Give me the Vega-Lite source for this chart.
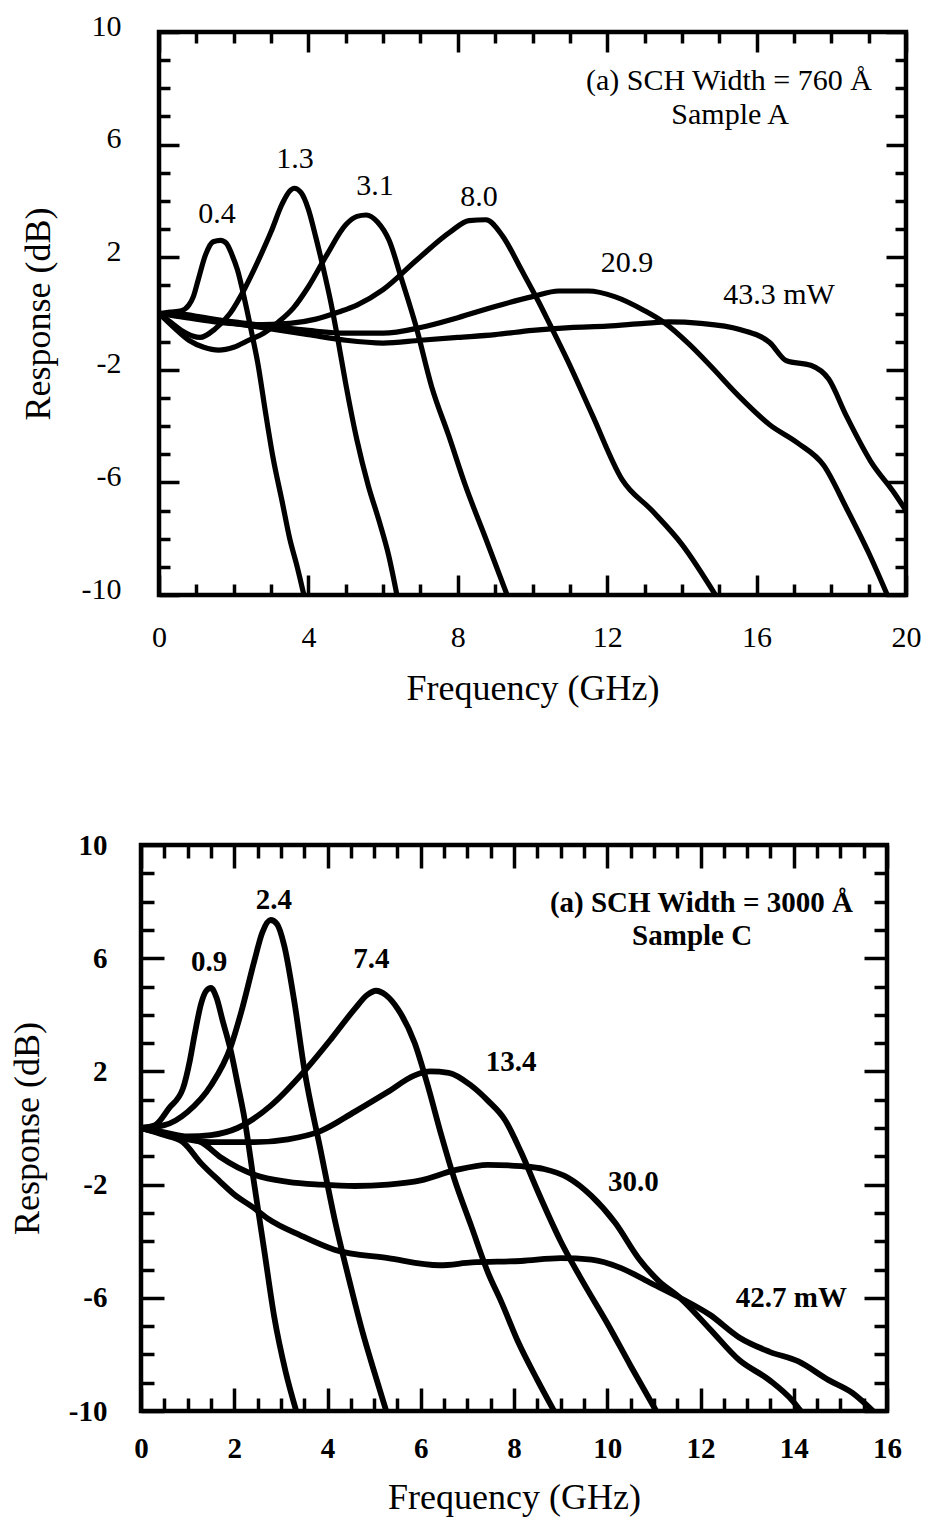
{
  "$schema": "https://vega.github.io/schema/vega-lite/v6.json",
  "background": "white",
  "padding": {"left": 0, "top": 8, "right": 3, "bottom": 5},
  "config": {
    "font": "Liberation Serif",
    "view": {"stroke": "black", "strokeWidth": 4.5},
    "axis": {"domain": false, "grid": false, "tickColor": "black", "tickWidth": 3.5, "labelColor": "black", "titleColor": "black", "labelFont": "Liberation Serif", "titleFont": "Liberation Serif", "labelOverlap": false, "labelFlush": false, "titleFontWeight": "normal", "labelFontWeight": "normal"},
    "text": {"font": "Liberation Serif", "color": "black"}
  },
  "datasets": {
    "A": [
      {"p":"0.4","f":0,"r":0},{"p":"0.4","f":0.3,"r":0.05},{"p":"0.4","f":0.6,"r":0.1},{"p":"0.4","f":0.8,"r":0.3},{"p":"0.4","f":0.92,"r":0.6},{"p":"0.4","f":1.05,"r":1.2},{"p":"0.4","f":1.25,"r":2.1},{"p":"0.4","f":1.45,"r":2.55},{"p":"0.4","f":1.65,"r":2.6},{"p":"0.4","f":1.8,"r":2.5},{"p":"0.4","f":1.95,"r":2.1},{"p":"0.4","f":2.1,"r":1.55},{"p":"0.4","f":2.3,"r":0.45},{"p":"0.4","f":2.5,"r":-0.8},{"p":"0.4","f":2.65,"r":-1.8},{"p":"0.4","f":2.85,"r":-3.5},{"p":"0.4","f":3.05,"r":-5.1},{"p":"0.4","f":3.3,"r":-6.7},{"p":"0.4","f":3.5,"r":-8.0},{"p":"0.4","f":3.7,"r":-9.0},{"p":"0.4","f":3.88,"r":-10},
      {"p":"1.3","f":0,"r":0},{"p":"1.3","f":0.3,"r":-0.3},{"p":"1.3","f":0.6,"r":-0.6},{"p":"1.3","f":0.9,"r":-0.8},{"p":"1.3","f":1.1,"r":-0.85},{"p":"1.3","f":1.5,"r":-0.55},{"p":"1.3","f":1.9,"r":0.0},{"p":"1.3","f":2.3,"r":0.9},{"p":"1.3","f":2.7,"r":2.0},{"p":"1.3","f":3.0,"r":2.9},{"p":"1.3","f":3.3,"r":3.9},{"p":"1.3","f":3.5,"r":4.35},{"p":"1.3","f":3.62,"r":4.45},{"p":"1.3","f":3.8,"r":4.3},{"p":"1.3","f":4.0,"r":3.7},{"p":"1.3","f":4.2,"r":2.7},{"p":"1.3","f":4.4,"r":1.6},{"p":"1.3","f":4.6,"r":0.4},{"p":"1.3","f":4.8,"r":-1.0},{"p":"1.3","f":5.0,"r":-2.5},{"p":"1.3","f":5.3,"r":-4.5},{"p":"1.3","f":5.6,"r":-6.1},{"p":"1.3","f":5.9,"r":-7.4},{"p":"1.3","f":6.15,"r":-8.6},{"p":"1.3","f":6.37,"r":-10},
      {"p":"3.1","f":0,"r":0},{"p":"3.1","f":0.4,"r":-0.5},{"p":"3.1","f":0.8,"r":-0.95},{"p":"3.1","f":1.2,"r":-1.2},{"p":"3.1","f":1.6,"r":-1.3},{"p":"3.1","f":2.0,"r":-1.2},{"p":"3.1","f":2.4,"r":-0.95},{"p":"3.1","f":2.8,"r":-0.7},{"p":"3.1","f":3.2,"r":-0.3},{"p":"3.1","f":3.6,"r":0.2},{"p":"3.1","f":4.0,"r":0.95},{"p":"3.1","f":4.5,"r":2.1},{"p":"3.1","f":5.0,"r":3.15},{"p":"3.1","f":5.3,"r":3.45},{"p":"3.1","f":5.55,"r":3.5},{"p":"3.1","f":5.85,"r":3.25},{"p":"3.1","f":6.16,"r":2.6},{"p":"3.1","f":6.5,"r":1.2},{"p":"3.1","f":6.87,"r":-0.4},{"p":"3.1","f":7.3,"r":-2.6},{"p":"3.1","f":7.76,"r":-4.35},{"p":"3.1","f":8.2,"r":-6.1},{"p":"3.1","f":8.75,"r":-8.0},{"p":"3.1","f":9.32,"r":-10},
      {"p":"8.0","f":0,"r":0},{"p":"8.0","f":0.5,"r":-0.1},{"p":"8.0","f":1.5,"r":-0.3},{"p":"8.0","f":2.5,"r":-0.4},{"p":"8.0","f":3.5,"r":-0.35},{"p":"8.0","f":4.2,"r":-0.2},{"p":"8.0","f":4.8,"r":0.05},{"p":"8.0","f":5.3,"r":0.3},{"p":"8.0","f":6.0,"r":0.85},{"p":"8.0","f":6.9,"r":1.9},{"p":"8.0","f":7.8,"r":2.9},{"p":"8.0","f":8.3,"r":3.3},{"p":"8.0","f":8.75,"r":3.33},{"p":"8.0","f":9.2,"r":2.75},{"p":"8.0","f":9.7,"r":1.56},{"p":"8.0","f":10.17,"r":0.4},{"p":"8.0","f":10.47,"r":-0.4},{"p":"8.0","f":10.95,"r":-1.7},{"p":"8.0","f":11.6,"r":-3.6},{"p":"8.0","f":12.4,"r":-5.9},{"p":"8.0","f":13.2,"r":-7.0},{"p":"8.0","f":14.0,"r":-8.2},{"p":"8.0","f":14.9,"r":-10},
      {"p":"20.9","f":0,"r":0},{"p":"20.9","f":0.5,"r":0.0},{"p":"20.9","f":1,"r":-0.1},{"p":"20.9","f":2,"r":-0.3},{"p":"20.9","f":3,"r":-0.45},{"p":"20.9","f":4,"r":-0.6},{"p":"20.9","f":5,"r":-0.7},{"p":"20.9","f":6,"r":-0.7},{"p":"20.9","f":7,"r":-0.5},{"p":"20.9","f":8,"r":-0.15},{"p":"20.9","f":9,"r":0.25},{"p":"20.9","f":10,"r":0.6},{"p":"20.9","f":10.7,"r":0.8},{"p":"20.9","f":11.5,"r":0.8},{"p":"20.9","f":12.2,"r":0.6},{"p":"20.9","f":13,"r":0.1},{"p":"20.9","f":13.5,"r":-0.3},{"p":"20.9","f":14.2,"r":-1.1},{"p":"20.9","f":14.75,"r":-1.84},{"p":"20.9","f":15.5,"r":-2.9},{"p":"20.9","f":16.35,"r":-3.95},{"p":"20.9","f":17.1,"r":-4.6},{"p":"20.9","f":17.8,"r":-5.4},{"p":"20.9","f":18.4,"r":-6.9},{"p":"20.9","f":19.0,"r":-8.5},{"p":"20.9","f":19.5,"r":-10},
      {"p":"43.3","f":0,"r":0},{"p":"43.3","f":0.5,"r":-0.05},{"p":"43.3","f":1,"r":-0.15},{"p":"43.3","f":2,"r":-0.35},{"p":"43.3","f":3,"r":-0.55},{"p":"43.3","f":4,"r":-0.75},{"p":"43.3","f":5,"r":-0.95},{"p":"43.3","f":6,"r":-1.05},{"p":"43.3","f":7,"r":-0.95},{"p":"43.3","f":8,"r":-0.85},{"p":"43.3","f":9,"r":-0.75},{"p":"43.3","f":10,"r":-0.6},{"p":"43.3","f":11,"r":-0.5},{"p":"43.3","f":12,"r":-0.45},{"p":"43.3","f":13,"r":-0.35},{"p":"43.3","f":13.65,"r":-0.3},{"p":"43.3","f":14.5,"r":-0.35},{"p":"43.3","f":15.55,"r":-0.57},{"p":"43.3","f":16.35,"r":-1.03},{"p":"43.3","f":16.8,"r":-1.68},{"p":"43.3","f":17.45,"r":-1.84},{"p":"43.3","f":17.93,"r":-2.33},{"p":"43.3","f":18.4,"r":-3.63},{"p":"43.3","f":19.05,"r":-5.24},{"p":"43.3","f":19.7,"r":-6.4},{"p":"43.3","f":20,"r":-7.0}
    ],
    "Alab": [
      {"t":"(a) SCH Width = 760 Å","x":15.26,"y":8.26},
      {"t":"Sample A","x":15.29,"y":7.05},
      {"t":"0.4","x":1.55,"y":3.53},
      {"t":"1.3","x":3.64,"y":5.49},
      {"t":"3.1","x":5.78,"y":4.53},
      {"t":"8.0","x":8.57,"y":4.14},
      {"t":"20.9","x":12.53,"y":1.79},
      {"t":"43.3 mW","x":16.6,"y":0.66}
    ],
    "C": [
      {"p":"0.9","f":0,"r":0},{"p":"0.9","f":0.3,"r":0.1},{"p":"0.9","f":0.6,"r":0.7},{"p":"0.9","f":0.9,"r":1.4},{"p":"0.9","f":1.05,"r":2.4},{"p":"0.9","f":1.15,"r":3.3},{"p":"0.9","f":1.29,"r":4.4},{"p":"0.9","f":1.4,"r":4.85},{"p":"0.9","f":1.5,"r":4.95},{"p":"0.9","f":1.62,"r":4.6},{"p":"0.9","f":1.75,"r":3.8},{"p":"0.9","f":1.93,"r":2.7},{"p":"0.9","f":2.08,"r":1.5},{"p":"0.9","f":2.22,"r":0.33},{"p":"0.9","f":2.43,"r":-2.0},{"p":"0.9","f":2.65,"r":-4.4},{"p":"0.9","f":2.86,"r":-6.7},{"p":"0.9","f":3.1,"r":-8.6},{"p":"0.9","f":3.33,"r":-10},
      {"p":"2.4","f":0,"r":0},{"p":"2.4","f":0.5,"r":0.1},{"p":"2.4","f":1.0,"r":0.57},{"p":"2.4","f":1.5,"r":1.5},{"p":"2.4","f":1.93,"r":2.9},{"p":"2.4","f":2.15,"r":4.1},{"p":"2.4","f":2.43,"r":5.9},{"p":"2.4","f":2.6,"r":6.9},{"p":"2.4","f":2.78,"r":7.35},{"p":"2.4","f":2.92,"r":7.2},{"p":"2.4","f":3.07,"r":6.46},{"p":"2.4","f":3.29,"r":4.45},{"p":"2.4","f":3.5,"r":2.1},{"p":"2.4","f":3.86,"r":-0.85},{"p":"2.4","f":4.15,"r":-3.2},{"p":"2.4","f":4.5,"r":-5.6},{"p":"2.4","f":4.75,"r":-7.2},{"p":"2.4","f":5.0,"r":-8.6},{"p":"2.4","f":5.26,"r":-10},
      {"p":"7.4","f":0,"r":0},{"p":"7.4","f":0.5,"r":-0.15},{"p":"7.4","f":1.0,"r":-0.3},{"p":"7.4","f":1.5,"r":-0.25},{"p":"7.4","f":2.07,"r":0.0},{"p":"7.4","f":2.79,"r":0.8},{"p":"7.4","f":3.5,"r":2.0},{"p":"7.4","f":4.08,"r":3.15},{"p":"7.4","f":4.58,"r":4.2},{"p":"7.4","f":4.85,"r":4.7},{"p":"7.4","f":5.04,"r":4.85},{"p":"7.4","f":5.25,"r":4.7},{"p":"7.4","f":5.51,"r":4.2},{"p":"7.4","f":5.87,"r":3.0},{"p":"7.4","f":6.15,"r":1.5},{"p":"7.4","f":6.44,"r":-0.25},{"p":"7.4","f":6.72,"r":-1.8},{"p":"7.4","f":7.08,"r":-3.45},{"p":"7.4","f":7.44,"r":-5.1},{"p":"7.4","f":7.73,"r":-6.15},{"p":"7.4","f":8.1,"r":-7.6},{"p":"7.4","f":8.5,"r":-8.9},{"p":"7.4","f":8.86,"r":-10},
      {"p":"13.4","f":0,"r":0},{"p":"13.4","f":0.5,"r":-0.2},{"p":"13.4","f":1.0,"r":-0.4},{"p":"13.4","f":1.5,"r":-0.5},{"p":"13.4","f":2.0,"r":-0.5},{"p":"13.4","f":2.43,"r":-0.5},{"p":"13.4","f":3.15,"r":-0.4},{"p":"13.4","f":3.86,"r":-0.1},{"p":"13.4","f":4.58,"r":0.57},{"p":"13.4","f":5.29,"r":1.27},{"p":"13.4","f":5.87,"r":1.86},{"p":"13.4","f":6.2,"r":2.0},{"p":"13.4","f":6.6,"r":1.95},{"p":"13.4","f":7.08,"r":1.5},{"p":"13.4","f":7.45,"r":0.95},{"p":"13.4","f":7.8,"r":0.3},{"p":"13.4","f":8.15,"r":-0.85},{"p":"13.4","f":8.5,"r":-2.2},{"p":"13.4","f":9.0,"r":-4.0},{"p":"13.4","f":9.5,"r":-5.5},{"p":"13.4","f":10.0,"r":-6.9},{"p":"13.4","f":10.5,"r":-8.4},{"p":"13.4","f":11.05,"r":-10},
      {"p":"30.0","f":0,"r":0},{"p":"30.0","f":0.5,"r":-0.2},{"p":"30.0","f":1.0,"r":-0.35},{"p":"30.0","f":1.29,"r":-0.5},{"p":"30.0","f":1.72,"r":-1.05},{"p":"30.0","f":2.43,"r":-1.65},{"p":"30.0","f":3.15,"r":-1.9},{"p":"30.0","f":3.86,"r":-2.0},{"p":"30.0","f":4.58,"r":-2.05},{"p":"30.0","f":5.3,"r":-2.0},{"p":"30.0","f":6.0,"r":-1.85},{"p":"30.0","f":6.72,"r":-1.5},{"p":"30.0","f":7.44,"r":-1.3},{"p":"30.0","f":8.15,"r":-1.35},{"p":"30.0","f":8.64,"r":-1.45},{"p":"30.0","f":9.15,"r":-1.75},{"p":"30.0","f":9.66,"r":-2.4},{"p":"30.0","f":10.17,"r":-3.35},{"p":"30.0","f":10.67,"r":-4.6},{"p":"30.0","f":11.1,"r":-5.4},{"p":"30.0","f":11.56,"r":-6.0},{"p":"30.0","f":12.2,"r":-7.1},{"p":"30.0","f":12.83,"r":-8.2},{"p":"30.0","f":13.47,"r":-8.9},{"p":"30.0","f":13.98,"r":-9.65},{"p":"30.0","f":14.15,"r":-10},
      {"p":"42.7","f":0,"r":0},{"p":"42.7","f":0.5,"r":-0.25},{"p":"42.7","f":0.9,"r":-0.5},{"p":"42.7","f":1.29,"r":-1.25},{"p":"42.7","f":1.7,"r":-1.9},{"p":"42.7","f":2.0,"r":-2.35},{"p":"42.7","f":2.4,"r":-2.8},{"p":"42.7","f":2.72,"r":-3.2},{"p":"42.7","f":3.43,"r":-3.8},{"p":"42.7","f":4.15,"r":-4.3},{"p":"42.7","f":5.3,"r":-4.6},{"p":"42.7","f":6.4,"r":-4.85},{"p":"42.7","f":7.1,"r":-4.75},{"p":"42.7","f":8.15,"r":-4.7},{"p":"42.7","f":9.0,"r":-4.6},{"p":"42.7","f":9.66,"r":-4.65},{"p":"42.7","f":10.3,"r":-4.95},{"p":"42.7","f":10.9,"r":-5.45},{"p":"42.7","f":11.56,"r":-6.0},{"p":"42.7","f":12.2,"r":-6.6},{"p":"42.7","f":12.83,"r":-7.4},{"p":"42.7","f":13.47,"r":-7.9},{"p":"42.7","f":14.1,"r":-8.25},{"p":"42.7","f":14.74,"r":-8.9},{"p":"42.7","f":15.25,"r":-9.35},{"p":"42.7","f":15.7,"r":-10}
    ],
    "Clab": [
      {"t":"(a) SCH Width = 3000 Å","x":12.02,"y":7.95},
      {"t":"Sample C","x":11.82,"y":6.78},
      {"t":"0.9","x":1.46,"y":5.87},
      {"t":"2.4","x":2.85,"y":8.06},
      {"t":"7.4","x":4.94,"y":5.97},
      {"t":"13.4","x":7.94,"y":2.33},
      {"t":"30.0","x":10.56,"y":-1.91},
      {"t":"42.7 mW","x":13.95,"y":-6.0}
    ]
  },
  "columns": 1,
  "align": "none",
  "spacing": 119,
  "concat": [
    {
      "spacing": 0,
      "hconcat": [
        {"width": 17, "height": 10, "view": {"stroke": null}, "data": {"values": []}, "mark": "point", "encoding": {}},
        {
          "width": 747, "height": 563,
          "resolve": {"axis": {"x": "independent", "y": "independent"}},
          "layer": [
            {
              "data": {"name": "A"},
              "mark": {"type": "line", "color": "black", "strokeWidth": 5.2, "interpolate": "monotone", "clip": true, "strokeCap": "round", "strokeJoin": "round"},
              "encoding": {
                "x": {"field": "f", "type": "quantitative", "scale": {"domain": [0, 20], "nice": false, "zero": false},
                  "axis": {"orient": "bottom", "values": [0,1,2,3,4,5,6,7,8,9,10,11,12,13,14,15,16,17,18,19,20],
                    "labelExpr": "datum.value % 4 === 0 ? toString(datum.value) : ''",
                    "tickSize": {"condition": {"test": "datum.value % 4 === 0", "value": -20}, "value": -11},
                    "labelPadding": 47, "labelFontSize": 30, "title": "Frequency (GHz)", "titleFontSize": 36, "titlePadding": 10}},
                "y": {"field": "r", "type": "quantitative", "scale": {"domain": [-10, 10], "nice": false, "zero": false},
                  "axis": {"orient": "left", "values": [-10,-9,-8,-7,-6,-5,-4,-3,-2,-1,0,1,2,3,4,5,6,7,8,9,10],
                    "labelExpr": "abs(datum.value) % 4 === 2 ? toString(datum.value) : ''",
                    "tickSize": {"condition": {"test": "abs(datum.value) % 4 === 2", "value": -20}, "value": -11},
                    "labelPadding": 58, "labelFontSize": 30, "labelOffset": -6, "title": "Response (dB)", "titleFontSize": 36, "titlePadding": 24}},
                "detail": {"field": "p"}
              }
            },
            {
              "data": {"name": "Alab"},
              "mark": {"type": "text", "fontSize": 30, "align": "center", "baseline": "middle"},
              "encoding": {
                "x": {"field": "x", "type": "quantitative",
                  "axis": {"orient": "top", "values": [0,1,2,3,4,5,6,7,8,9,10,11,12,13,14,15,16,17,18,19,20], "labels": false, "title": null,
                    "tickSize": {"condition": {"test": "datum.value % 4 === 0", "value": -20}, "value": -11}}},
                "y": {"field": "y", "type": "quantitative",
                  "axis": {"orient": "right", "values": [-10,-9,-8,-7,-6,-5,-4,-3,-2,-1,0,1,2,3,4,5,6,7,8,9,10], "labels": false, "title": null,
                    "tickSize": {"condition": {"test": "abs(datum.value) % 4 === 2", "value": -20}, "value": -11}}},
                "text": {"field": "t"}
              }
            }
          ]
        }
      ]
    },
    {
      "spacing": 0,
      "hconcat": [
        {"width": 7, "height": 10, "view": {"stroke": null}, "data": {"values": []}, "mark": "point", "encoding": {}},
        {
          "width": 746, "height": 566,
          "resolve": {"axis": {"x": "independent", "y": "independent"}},
          "layer": [
            {
              "data": {"name": "C"},
              "mark": {"type": "line", "color": "black", "strokeWidth": 5.8, "interpolate": "monotone", "clip": true, "strokeCap": "round", "strokeJoin": "round"},
              "encoding": {
                "x": {"field": "f", "type": "quantitative", "scale": {"domain": [0, 16], "nice": false, "zero": false},
                  "axis": {"orient": "bottom", "values": [0,0.5,1,1.5,2,2.5,3,3.5,4,4.5,5,5.5,6,6.5,7,7.5,8,8.5,9,9.5,10,10.5,11,11.5,12,12.5,13,13.5,14,14.5,15,15.5,16],
                    "labelExpr": "datum.value % 2 === 0 ? toString(datum.value) : ''",
                    "tickSize": {"condition": {"test": "datum.value % 2 === 0", "value": -23}, "value": -13},
                    "labelPadding": 46, "labelFontSize": 29, "labelFontWeight": "bold", "title": "Frequency (GHz)", "titleFontSize": 36, "titlePadding": 7}},
                "y": {"field": "r", "type": "quantitative", "scale": {"domain": [-10, 10], "nice": false, "zero": false},
                  "axis": {"orient": "left", "values": [-10,-9,-8,-7,-6,-5,-4,-3,-2,-1,0,1,2,3,4,5,6,7,8,9,10],
                    "labelExpr": "abs(datum.value) % 4 === 2 ? toString(datum.value) : ''",
                    "tickSize": {"condition": {"test": "abs(datum.value) % 4 === 2", "value": -23}, "value": -13},
                    "labelPadding": 57, "labelFontSize": 29, "labelFontWeight": "bold", "title": "Response (dB)", "titleFontSize": 36, "titlePadding": 22}},
                "detail": {"field": "p"}
              }
            },
            {
              "data": {"name": "Clab"},
              "mark": {"type": "text", "fontSize": 29, "fontWeight": "bold", "align": "center", "baseline": "middle"},
              "encoding": {
                "x": {"field": "x", "type": "quantitative",
                  "axis": {"orient": "top", "values": [0,0.5,1,1.5,2,2.5,3,3.5,4,4.5,5,5.5,6,6.5,7,7.5,8,8.5,9,9.5,10,10.5,11,11.5,12,12.5,13,13.5,14,14.5,15,15.5,16], "labels": false, "title": null,
                    "tickSize": {"condition": {"test": "datum.value % 2 === 0", "value": -23}, "value": -13}}},
                "y": {"field": "y", "type": "quantitative",
                  "axis": {"orient": "right", "values": [-10,-9,-8,-7,-6,-5,-4,-3,-2,-1,0,1,2,3,4,5,6,7,8,9,10], "labels": false, "title": null,
                    "tickSize": {"condition": {"test": "abs(datum.value) % 4 === 2", "value": -23}, "value": -13}}},
                "text": {"field": "t"}
              }
            }
          ]
        }
      ]
    }
  ]
}
